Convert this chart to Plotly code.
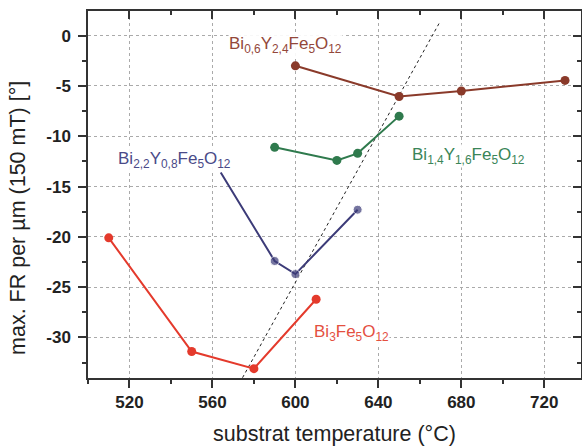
import plotly.graph_objects as go

# Data
bi3_x = [510, 550, 580, 610]
bi3_y = [-20.1, -31.4, -33.1, -26.2]

bi22_x = [564, 590, 600, 630]
bi22_y = [-13.6, -22.4, -23.7, -17.3]
bi22_marker = [0, 9, 9, 9]

bi14_x = [590, 620, 630, 650]
bi14_y = [-11.1, -12.4, -11.7, -8.0]

bi06_x = [600, 650, 680, 730]
bi06_y = [-3.0, -6.05, -5.5, -4.45]

guide_x = [574.5, 669.5]
guide_y = [-34.0, 1.3]

x_ticks = [520, 560, 600, 640, 680, 720]
y_ticks = [0, -5, -10, -15, -20, -25, -30]

C_RED = "#e43a2c"
C_NAVY = "#3c3b78"
C_GREEN = "#2f7a4d"
C_BROWN = "#8a3a2a"

FONT = "Arial, Liberation Sans, sans-serif"

fig = go.Figure()

fig.add_trace(go.Scatter(x=guide_x, y=guide_y, mode="lines",
                         line=dict(color="#222222", width=1, dash="dot"),
                         showlegend=False, hoverinfo="skip"))

def add_series(xs, ys, color, msize=9):
    fig.add_trace(go.Scatter(x=xs, y=ys, mode="lines+markers",
                             line=dict(color=color, width=2),
                             marker=dict(color=color, size=msize),
                             showlegend=False))

add_series(bi3_x, bi3_y, C_RED)
add_series(bi22_x, bi22_y, C_NAVY, bi22_marker)
add_series(bi14_x, bi14_y, C_GREEN)
add_series(bi06_x, bi06_y, C_BROWN)

labels = [
    ("Bi<sub>0,6</sub>Y<sub>2,4</sub>Fe<sub>5</sub>O<sub>12</sub>", 595, -0.9, "#93473a"),
    ("Bi<sub>2,2</sub>Y<sub>0,8</sub>Fe<sub>5</sub>O<sub>12</sub>", 541.5, -12.4, "#4a4a88"),
    ("Bi<sub>1,4</sub>Y<sub>1,6</sub>Fe<sub>5</sub>O<sub>12</sub>", 683.5, -12.0, "#3a8558"),
    ("Bi<sub>3</sub>Fe<sub>5</sub>O<sub>12</sub>", 627, -29.6, "#e4503f"),
]
for txt, lx, ly, col in labels:
    fig.add_annotation(x=lx, y=ly, text=txt, showarrow=False,
                       font=dict(family=FONT, size=17, color=col),
                       bgcolor="rgba(255,255,255,0.9)", borderpad=0)

# y-axis title as rotated annotation
fig.add_annotation(xref="paper", yref="paper", x=0, y=0.436, xshift=-70,
                   text="max. FR per µm (150 mT) [°]", textangle=-90,
                   showarrow=False, xanchor="center", yanchor="middle",
                   font=dict(family=FONT, size=21.5, color="#222222"))

axis_common = dict(showline=True, linecolor="#333333", linewidth=1.5,
                   tickcolor="#333333", tickwidth=1.5, zeroline=False)

tickfont = dict(size=17, family=FONT, color="#222222")

fig.update_layout(
    width=582, height=446,
    margin=dict(l=88, r=1, t=11, b=68),
    paper_bgcolor="white", plot_bgcolor="white",
    font=dict(family=FONT, color="#222222"),
    xaxis=dict(range=[500, 737.7], tickvals=x_ticks,
               ticktext=[f"<b>{v}</b>" for v in x_ticks],
               ticks="outside", ticklen=8,
               tickfont=tickfont,
               showgrid=True, gridcolor="#aaaaaa", griddash="dot", gridwidth=1,
               minor=dict(dtick=20, tick0=500, ticks="outside", ticklen=4,
                          tickcolor="#333333", showgrid=False),
               title=dict(text="substrat temperature (°C)",
                          font=dict(size=21.5, family=FONT, color="#222222"),
                          standoff=15),
               **axis_common),
    yaxis=dict(range=[-34.03, 2.45], tickvals=y_ticks,
               ticktext=[f"<b>{v}</b>" for v in y_ticks],
               ticks="outside", ticklen=8, ticklabelstandoff=4,
               tickfont=tickfont,
               showgrid=True, gridcolor="#aaaaaa", griddash="dot", gridwidth=1,
               minor=dict(dtick=2.5, tick0=0, ticks="outside", ticklen=4,
                          tickcolor="#333333", showgrid=False),
               **axis_common),
    xaxis2=dict(overlaying="x", side="top", matches="x", range=[500, 737.7],
                tickvals=x_ticks, ticks="inside", ticklen=8, showticklabels=False,
                showgrid=False,
                minor=dict(dtick=20, tick0=500, ticks="inside", ticklen=4,
                           tickcolor="#333333"),
                **axis_common),
    yaxis2=dict(overlaying="y", side="right", matches="y", range=[-34.03, 2.45],
                tickvals=y_ticks, ticks="inside", ticklen=8, showticklabels=False,
                showgrid=False,
                minor=dict(dtick=2.5, tick0=0, ticks="inside", ticklen=4,
                           tickcolor="#333333"),
                **axis_common),
)

fig.add_trace(go.Scatter(x=[None], y=[None], xaxis="x2", yaxis="y2",
                         showlegend=False, hoverinfo="skip"))

fig.write_html("out.html")
